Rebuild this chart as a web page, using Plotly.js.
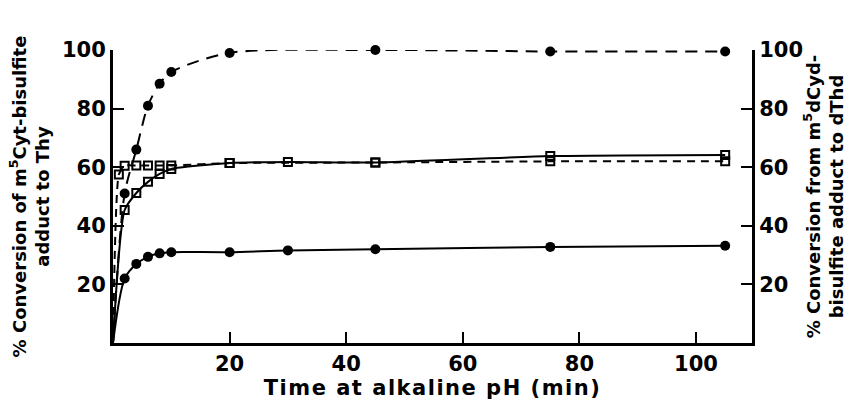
<!DOCTYPE html>
<html><head><meta charset="utf-8">
<script src="https://cdn.plot.ly/plotly-3.0.1.min.js"></script>
<style>html,body{margin:0;padding:0;background:#fff}
.xtitle{letter-spacing:1.5px}
</style>
</head><body><div id="chart" style="width:847px;height:405px"></div>
<script>
// Time (min) and % conversion; curves start at the origin
const timeCytHigh = [0, 2, 4, 6, 8, 10, 20, 45, 75, 105];
const convCytHigh = [0, 51, 66, 81, 88.5, 92.5, 99, 100, 99.5, 99.5];

const timeCytLow = [0, 2, 4, 6, 8, 10, 20, 30, 45, 75, 105];
const convCytLow = [0, 22, 27, 29.4, 30.6, 31, 31, 31.6, 32, 32.8, 33.2];

const timeDCydSolid = [0, 2, 4, 6, 8, 10, 20, 30, 45, 75, 105];
const convDCydSolid = [0, 45.4, 51.2, 55, 57.7, 59.4, 61.4, 61.8, 61.6, 63.8, 64.2];

const timeDCydDashed = [0, 1, 2, 4, 6, 8, 10, 20, 45, 75, 105];
const convDCydDashed = [0, 57.5, 60.5, 60.6, 60.6, 60.6, 60.6, 61.4, 61.6, 62, 62];

const xTicks = [20, 40, 60, 80, 100];
const yTicks = [20, 40, 60, 80, 100];

const FONT = 'DejaVu Sans, sans-serif';
const TICKFONT = 'DejaVu Sans, sans-serif';
const sizes = (arr, s) => arr.map(t => t === 0 ? 0 : s);

const traces = [
  {x: timeCytHigh, y: convCytHigh, mode: 'lines+markers', yaxis: 'y', cliponaxis: false,
   line: {color: '#000', width: 2, dash: '12px,8px', shape: 'spline', smoothing: 0.8},
   marker: {symbol: 'circle', color: '#000', opacity: 1, size: sizes(timeCytHigh, 10), line: {color: '#000', width: 0}}},
  {x: timeCytLow, y: convCytLow, mode: 'lines+markers', yaxis: 'y', cliponaxis: false,
   line: {color: '#000', width: 2, shape: 'spline', smoothing: 0.8},
   marker: {symbol: 'circle', color: '#000', opacity: 1, size: sizes(timeCytLow, 10), line: {color: '#000', width: 0}}},
  {x: timeDCydSolid, y: convDCydSolid, mode: 'lines+markers', yaxis: 'y2', cliponaxis: false,
   line: {color: '#000', width: 2, shape: 'spline', smoothing: 0.6},
   marker: {symbol: 'square-open', color: '#000', opacity: 1, size: sizes(timeDCydSolid, 8), line: {width: 2, color: '#000'}}},
  {x: timeDCydDashed, y: convDCydDashed, mode: 'lines+markers', yaxis: 'y2', cliponaxis: false,
   line: {color: '#000', width: 2, dash: '8px,6px', shape: 'spline', smoothing: 0.5},
   marker: {symbol: 'square-open', color: '#000', opacity: 1, size: sizes(timeDCydDashed, 8), line: {width: 2, color: '#000'}}}
];

const axisCommon = {
  showgrid: false, zeroline: false, showline: true, linecolor: '#000', linewidth: 3,
  ticks: 'inside', ticklen: 11, tickwidth: 2, tickcolor: '#000',
  tickfont: {family: TICKFONT, size: 21, color: '#000', weight: 'bold'}
};

const layout = {
  width: 847, height: 405,
  margin: {l: 113, r: 95, t: 50, b: 62},
  paper_bgcolor: '#fff', plot_bgcolor: '#fff',
  showlegend: false,
  xaxis: Object.assign({}, axisCommon, {
    range: [0, 109.6], tickvals: xTicks,
    title: {text: 'Time at alkaline pH (min)', font: {family: FONT, size: 21, color: '#000', weight: 'bold'}, standoff: 6}
  }),
  yaxis: Object.assign({}, axisCommon, {
    range: [0, 100], tickvals: yTicks,
    title: {text: '% Conversion of m<sup>5</sup>Cyt-bisulfite<br>adduct to Thy', font: {family: FONT, size: 18, color: '#000', weight: 'bold'}, standoff: 8}
  }),
  yaxis2: Object.assign({}, axisCommon, {
    range: [0, 100], tickvals: yTicks, overlaying: 'y', side: 'right',
    title: {text: '% Conversion from m<sup>5</sup>dCyd-<br>bisulfite adduct to dThd', font: {family: FONT, size: 18, color: '#000', weight: 'bold'}, standoff: 8}
  })
};

Plotly.newPlot('chart', traces, layout, {displayModeBar: false, staticPlot: true});
</script></body></html>
